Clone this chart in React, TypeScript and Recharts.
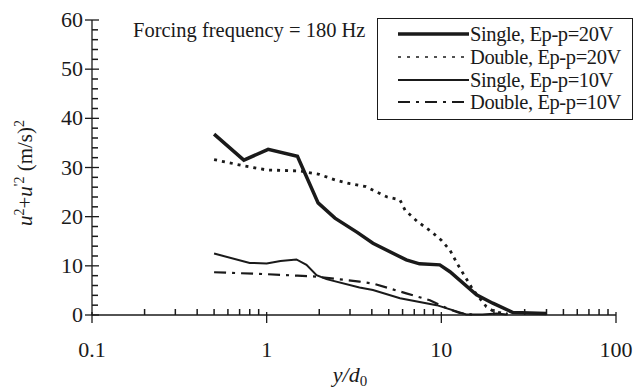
import React from "react";
import { LineChart, Line, XAxis, YAxis } from "recharts";

// y/d0 positions and intensity values
const single20X = [0.5, 0.74, 1.02, 1.5, 1.97, 2.46, 3.3, 4.06, 6.3, 7.5, 9.8, 11.2, 15.9, 19.7, 25.7, 40];
const single20Y = [36.8, 31.5, 33.7, 32.3, 22.8, 19.7, 16.8, 14.6, 11.2, 10.4, 10.2, 8.8, 4.1, 2.4, 0.5, 0.3];

const double20X = [0.5, 0.75, 1.0, 1.55, 2.0, 2.5, 3.0, 3.7, 4.9, 5.8, 6.2, 7.3, 8.8, 10, 11.2, 12.3, 15.2, 18.1, 20, 24];
const double20Y = [31.6, 30.3, 29.5, 29.3, 28.6, 27.4, 26.7, 26.1, 24.0, 23.4, 21.3, 19.0, 16.9, 15.2, 13.2, 10.5, 5.1, 1.7, 0.7, 0.2];

const single10X = [0.5, 0.8, 1.0, 1.2, 1.48, 1.69, 1.93, 2.2, 3.4, 4.06, 5.8, 9.4, 13.9, 17.2, 20.8, 23.6];
const single10Y = [12.5, 10.6, 10.5, 11.0, 11.3, 10.2, 8.1, 7.3, 5.6, 5.1, 3.4, 2.0, 0.1, 0.1, 0.3, 0.1];

const double10X = [0.5, 1.0, 1.5, 1.93, 3.4, 4.06, 6.3, 8.6, 10.7, 12.7, 15];
const double10Y = [8.7, 8.3, 8.0, 7.8, 6.8, 6.4, 4.4, 3.0, 1.4, 0.4, 0.1];

const xMajor = [0.1, 1, 10, 100];
const xTicks = [
  0.1, 0.2, 0.3, 0.4, 0.5, 0.6, 0.7, 0.8, 0.9,
  1, 2, 3, 4, 5, 6, 7, 8, 9,
  10, 20, 30, 40, 50, 60, 70, 80, 90, 100,
];
const yTicks = Array.from({ length: 31 }, (_, i) => i * 2);

const seriesNames = [
  "Single, Ep-p=20V",
  "Double, Ep-p=20V",
  "Single, Ep-p=10V",
  "Double, Ep-p=10V",
];

const zip = (xs: number[], ys: number[]) => xs.map((x, i) => ({ x, y: ys[i] }));

const FONT = "Liberation Serif, Times New Roman, serif";
const INK = "#1a1a1a";

const STYLES = [
  { width: 3.5, dash: undefined },
  { width: 2.8, dash: "3 5" },
  { width: 2, dash: undefined },
  { width: 2.2, dash: "12 6 3 6" },
];

function XTick(props: any) {
  const { x, y, payload } = props;
  const major = xMajor.includes(payload.value);
  return (
    <g>
      {major ? (
        <line x1={x} x2={x} y1={y - 3} y2={y + 8} stroke={INK} strokeWidth={1.3} />
      ) : (
        <line x1={x} x2={x} y1={y - 6} y2={y} stroke={INK} strokeWidth={1.5} />
      )}
      {major && (
        <text x={x} y={y + 42} textAnchor="middle" fontFamily={FONT} fontSize={22} fill={INK}>
          {payload.value}
        </text>
      )}
    </g>
  );
}

function YTick(props: any) {
  const { x, y, payload } = props;
  const major = payload.value % 10 === 0;
  return (
    <g>
      {major ? (
        <line x1={x - 7} x2={x + 7} y1={y} y2={y} stroke={INK} strokeWidth={1.3} />
      ) : (
        <line x1={x} x2={x + 6} y1={y} y2={y} stroke={INK} strokeWidth={1.5} />
      )}
      {major && (
        <text x={x - 9} y={y + 7} textAnchor="end" fontFamily={FONT} fontSize={22} fill={INK}>
          {payload.value}
        </text>
      )}
    </g>
  );
}

function LegendBox() {
  return (
    <div
      style={{
        position: "absolute",
        left: 377,
        top: 18,
        border: `1.2px solid ${INK}`,
        width: 256,
        height: 102,
        boxSizing: "border-box",
        background: "#fff",
        fontFamily: FONT,
        fontSize: 20.5,
        color: INK,
        paddingTop: 4,
      }}
    >
      {seriesNames.map((name, i) => (
        <div key={name} style={{ display: "flex", alignItems: "center", height: 22.7, lineHeight: "22px" }}>
          <svg width={92} height={20}>
            <line
              x1={20}
              x2={91}
              y1={10}
              y2={10}
              stroke={INK}
              strokeWidth={i === 1 ? 1.6 : STYLES[i].width}
              strokeDasharray={i === 1 ? "3 6" : STYLES[i].dash}
            />
          </svg>
          <span style={{ letterSpacing: -0.4 }}>{name}</span>
        </div>
      ))}
    </div>
  );
}

function YLabel() {
  return (
    <text
      transform="translate(32,173) rotate(-90)"
      textAnchor="middle"
      fontFamily={FONT}
      fontSize={21}
      fill={INK}
    >
      <tspan fontStyle="italic">u</tspan>
      <tspan dy={-8} fontSize={14}>2</tspan>
      <tspan dy={8}>+</tspan>
      <tspan fontStyle="italic">u</tspan>
      <tspan dy={-8} fontSize={14}>'2</tspan>
      <tspan dy={8}> (m/s)</tspan>
      <tspan dy={-8} fontSize={14}>2</tspan>
    </text>
  );
}

function XLabel() {
  return (
    <text x={350} y={382} textAnchor="middle" fontFamily={FONT} fontSize={22} fill={INK} fontStyle="italic">
      y/d
      <tspan dy={4} fontSize={15} fontStyle="normal">0</tspan>
    </text>
  );
}

export default function App() {
  const all = [
    zip(single20X, single20Y),
    zip(double20X, double20Y),
    zip(single10X, single10Y),
    zip(double10X, double10Y),
  ];
  return (
    <div style={{ position: "absolute", left: 0, top: 0, width: 635, height: 392, background: "#fff" }}>
      <LineChart width={635} height={392} margin={{ top: 20, right: 19, bottom: 0, left: 0 }}>
        <XAxis
          type="number"
          dataKey="x"
          scale="log"
          domain={[0.1, 100]}
          ticks={xTicks}
          interval={0}
          allowDataOverflow
          height={77}
          tickSize={0}
          tickMargin={0}
          tickLine={false}
          tick={<XTick />}
          axisLine={{ stroke: INK, strokeWidth: 1.3 }}
        />
        <YAxis
          type="number"
          domain={[0, 60]}
          ticks={yTicks}
          interval={0}
          width={92}
          tickSize={0}
          tickMargin={0}
          tickLine={false}
          tick={<YTick />}
          axisLine={{ stroke: INK, strokeWidth: 1.3 }}
        />
        {all.map((d, i) => (
          <Line
            key={seriesNames[i]}
            data={d}
            dataKey="y"
            name={seriesNames[i]}
            type="linear"
            stroke={INK}
            strokeWidth={STYLES[i].width}
            strokeDasharray={STYLES[i].dash}
            dot={false}
            activeDot={false}
            isAnimationActive={false}
          />
        ))}
        <YLabel />
        <XLabel />
      </LineChart>
      <LegendBox />
      <div
        style={{
          position: "absolute",
          left: 133,
          top: 19,
          fontFamily: FONT,
          fontSize: 20.5,
          color: INK,
          whiteSpace: "nowrap",
        }}
      >
        Forcing frequency = 180 Hz
      </div>
    </div>
  );
}
